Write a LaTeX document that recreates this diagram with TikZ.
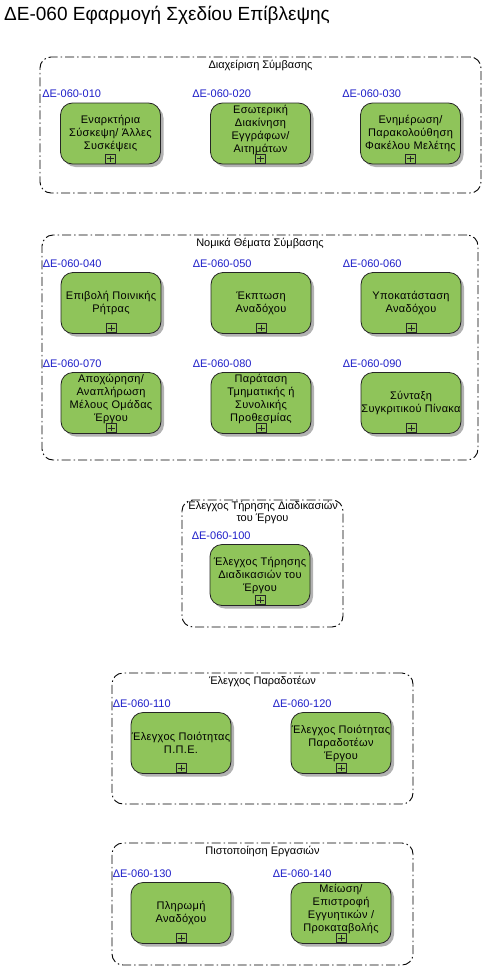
\documentclass[tikz,border=0pt]{standalone}
\usepackage{fontspec}
\setmainfont{Liberation Sans}
\newfontfamily\boxfont[LetterSpace=3]{Liberation Sans}
\usetikzlibrary{shadows}
\definecolor{taskgreen}{RGB}{143,196,90}
\definecolor{lblblue}{RGB}{30,30,200}
\tikzset{
  grp/.style={draw=black, line width=0.9pt, dash pattern=on 9pt off 3pt on 1.5pt off 3pt, rounded corners=11pt, inner sep=0},
  gtitle/.style={font=\fontsize{11}{12}\selectfont, align=center, inner sep=0},
  task/.style={draw=black!85, line width=0.8pt, fill=taskgreen, rounded corners=12pt, minimum width=100, minimum height=61, align=center, inner sep=0, font=\boxfont\fontsize{11}{13}\selectfont, drop shadow={shadow xshift=3pt, shadow yshift=-3pt, fill=black!30, opacity=1}},
  lbl/.style={text=lblblue, font=\fontsize{11}{13}\selectfont, inner sep=0},
  plusbox/.style={draw=black!85, line width=0.7pt, minimum width=10, minimum height=9, inner sep=0,
    path picture={\draw[line width=0.7pt] ([yshift=-1.5pt]path picture bounding box.north) -- ([yshift=1.5pt]path picture bounding box.south);
      \draw[line width=0.7pt] ([xshift=1.5pt]path picture bounding box.west) -- ([xshift=-1.5pt]path picture bounding box.east);}}
}
\newcommand\lift{\\[-3pt]\mbox{}}
\newcommand\tsk[5]{%
  \node[task] (#1) at (#2,#3) {#5};
  \node[lbl, anchor=base west] (#1l) at ([shift={(-18,-5)}]#1.north west) {#4};
  \node[plusbox, anchor=south] (#1p) at ([shift={(0,-1)}]#1.south) {};
}
\begin{document}
\begin{tikzpicture}[x=1pt,y=-1pt]
\useasboundingbox (0,0) rectangle (486,969);
\node[anchor=base west, inner sep=0, font=\fontsize{19}{21}\selectfont] (title) at (4,20) {ΔΕ-060 Εφαρμογή Σχεδίου Επίβλεψης};

% group 1
\node[grp, minimum width=441, minimum height=136] (g1) at (260.5,125) {};
\node[gtitle] (g1t) at ([shift={(0,9)}]g1.north) {Διαχείριση Σύμβασης};
\tsk{t010}{110.5}{133.5}{ΔΕ-060-010}{Εναρκτήρια\\Σύσκεψη/ Άλλες\\Συσκέψεις}
\tsk{t020}{260.5}{133.5}{ΔΕ-060-020}{Εσωτερική\\Διακίνηση\\Εγγράφων/\\Αιτημάτων\lift}
\tsk{t030}{410.5}{133.5}{ΔΕ-060-030}{Ενημέρωση/\\Παρακολούθηση\\Φακέλου Μελέτης}

% group 2
\node[grp, minimum width=436, minimum height=225] (g2) at (260,347.5) {};
\node[gtitle] (g2t) at ([shift={(0,9)}]g2.north) {Νομικά Θέματα Σύμβασης};
\tsk{t040}{111}{303}{ΔΕ-060-040}{Επιβολή Ποινικής\\Ρήτρας}
\tsk{t050}{261}{303}{ΔΕ-060-050}{Έκπτωση\\Αναδόχου}
\tsk{t060}{411}{303}{ΔΕ-060-060}{Υποκατάσταση\\Αναδόχου}
\tsk{t070}{111}{403}{ΔΕ-060-070}{Αποχώρηση/\\Αναπλήρωση\\Μέλους Ομάδας\\Έργου\lift}
\tsk{t080}{261}{403}{ΔΕ-060-080}{Παράταση\\Τμηματικής ή\\Συνολικής\\Προθεσμίας\lift}
\tsk{t090}{411}{403}{ΔΕ-060-090}{Σύνταξη\\Συγκριτικού Πίνακα}

% group 3
\node[grp, minimum width=161, minimum height=127] (g3) at (262.5,563.5) {};
\node[gtitle] (g3t) at ([shift={(0,13)}]g3.north) {Έλεγχος Τήρησης Διαδικασιών\\του Έργου};
\tsk{t100}{260}{575}{ΔΕ-060-100}{Έλεγχος Τήρησης\\Διαδικασιών του\\Έργου}

% group 4
\node[grp, minimum width=301, minimum height=131] (g4) at (262.5,738.5) {};
\node[gtitle] (g4t) at ([shift={(0,9)}]g4.north) {Έλεγχος Παραδοτέων};
\tsk{t110}{181}{743}{ΔΕ-060-110}{Έλεγχος Ποιότητας\\Π.Π.Ε.}
\tsk{t120}{341}{743}{ΔΕ-060-120}{Έλεγχος Ποιότητας\\Παραδοτέων\\Έργου}

% group 5
\node[grp, minimum width=301, minimum height=122] (g5) at (262.5,904) {};
\node[gtitle] (g5t) at ([shift={(0,9)}]g5.north) {Πιστοποίηση Εργασιών};
\tsk{t130}{181}{913}{ΔΕ-060-130}{Πληρωμή\\Αναδόχου}
\tsk{t140}{341}{913}{ΔΕ-060-140}{Μείωση/\\Επιστροφή\\Εγγυητικών /\\Προκαταβολής\lift}
\end{tikzpicture}
\end{document}
